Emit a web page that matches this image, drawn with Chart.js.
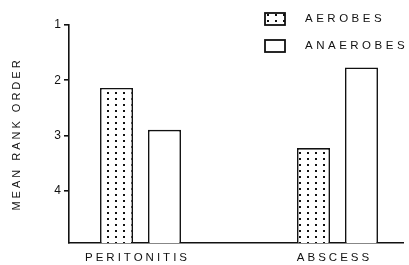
<!DOCTYPE html>
<html>
<head>
<meta charset="utf-8">
<script src="https://cdn.jsdelivr.net/npm/chart.js@4"></script>
<style>
  html, body { margin: 0; padding: 0; background: #fff; }
</style>
</head>
<body>
<canvas id="rankChart" width="409" height="265"></canvas>
<script>
// values (rank order, 1 = top)
const categories = ["PERITONITIS", "ABSCESS"];
const aerobes = [2.14, 3.23];
const anaerobes = [2.90, 1.77];
const yTicks = [1, 2, 3, 4];
const yMin = 1;
const yMax = 4.95;

const ctx = document.getElementById("rankChart").getContext("2d");

// stipple fill for the aerobes bars
function makeDots() {
  const c = document.createElement("canvas");
  c.width = 8;
  c.height = 6;
  const g = c.getContext("2d");
  g.fillStyle = "#fff";
  g.fillRect(0, 0, 8, 6);
  g.fillStyle = "#111";
  g.fillRect(3, 2, 2, 2);
  return ctx.createPattern(c, "repeat");
}
const dots = makeDots();

Chart.defaults.font.family = "'Liberation Sans', Arial, sans-serif";
Chart.defaults.color = "#111";

// wide lettering like the original
const spacing = {
  id: "spacing",
  beforeUpdate(chart) { chart.ctx.letterSpacing = "3px"; },
  beforeDraw(chart) { chart.ctx.letterSpacing = "3px"; }
};

// legend in the top right corner
const legendBox = {
  id: "legendBox",
  afterDraw(chart) {
    const c = chart.ctx;
    c.save();
    chart.data.datasets.forEach((ds, i) => {
      const y = 13 + i * 27;
      c.fillStyle = ds.backgroundColor;
      c.fillRect(265, y, 20, 12);
      c.lineWidth = 1.8;
      c.strokeStyle = "#111";
      c.strokeRect(265, y, 20, 12);
      c.fillStyle = "#111";
      c.font = "11.5px 'Liberation Sans', Arial, sans-serif";
      c.letterSpacing = "3.5px";
      c.textBaseline = "middle";
      c.fillText(ds.label, 305, y + 6);
    });
    c.restore();
  }
};

const chartData = {
  datasets: [
    {
      label: "AEROBES",
      data: aerobes.map((v, i) => ({ x: i + 1, y: v })),
      backgroundColor: dots,
      borderColor: "#111",
      borderWidth: 1.6,
      base: yMax,
      categoryPercentage: 0.487,
      barPercentage: 0.6875
    },
    {
      label: "ANAEROBES",
      data: anaerobes.map((v, i) => ({ x: i + 1, y: v })),
      backgroundColor: "#fff",
      borderColor: "#111",
      borderWidth: 1.6,
      base: yMax,
      categoryPercentage: 0.487,
      barPercentage: 0.6875
    }
  ]
};

const config = {
  type: "bar",
  data: chartData,
  plugins: [spacing, legendBox],
  options: {
    responsive: false,
    animation: false,
    layout: { padding: { top: 25, right: 6, left: 0, bottom: 0 } },
    plugins: {
      legend: { display: false },
      tooltip: { enabled: false }
    },
    scales: {
      x: {
        type: "linear",
        min: 0.637,
        max: 2.3325,
        offset: false,
        grid: { display: false },
        border: { display: true, color: "#111", width: 1.6 },
        afterBuildTicks: (axis) => {
          axis.ticks = categories.map((c, i) => ({ value: i + 1 }));
        },
        ticks: {
          callback: (v) => categories[v - 1] ?? "",
          font: { size: 11.5 },
          padding: 0,
          labelOffset: -3,
          maxRotation: 0,
          autoSkip: false
        },
        afterFit: (axis) => { axis.height = 22; }
      },
      y: {
        reverse: true,
        min: yMin,
        max: yMax,
        afterBuildTicks: (axis) => {
          axis.ticks = yTicks.map((v) => ({ value: v }));
        },
        grid: { drawOnChartArea: false, drawTicks: true, tickLength: 5, color: "#111", lineWidth: 1.6 },
        border: { display: true, color: "#111", width: 1.6 },
        ticks: { font: { size: 12 }, padding: 0 },
        title: {
          display: true,
          text: "MEAN RANK ORDER",
          font: { size: 11 },
          padding: { top: 10, bottom: 4 }
        },
        afterFit: (axis) => { axis.width = 69; }
      }
    }
  }
};

const rankChart = new Chart(ctx, config);
</script>
</body>
</html>
